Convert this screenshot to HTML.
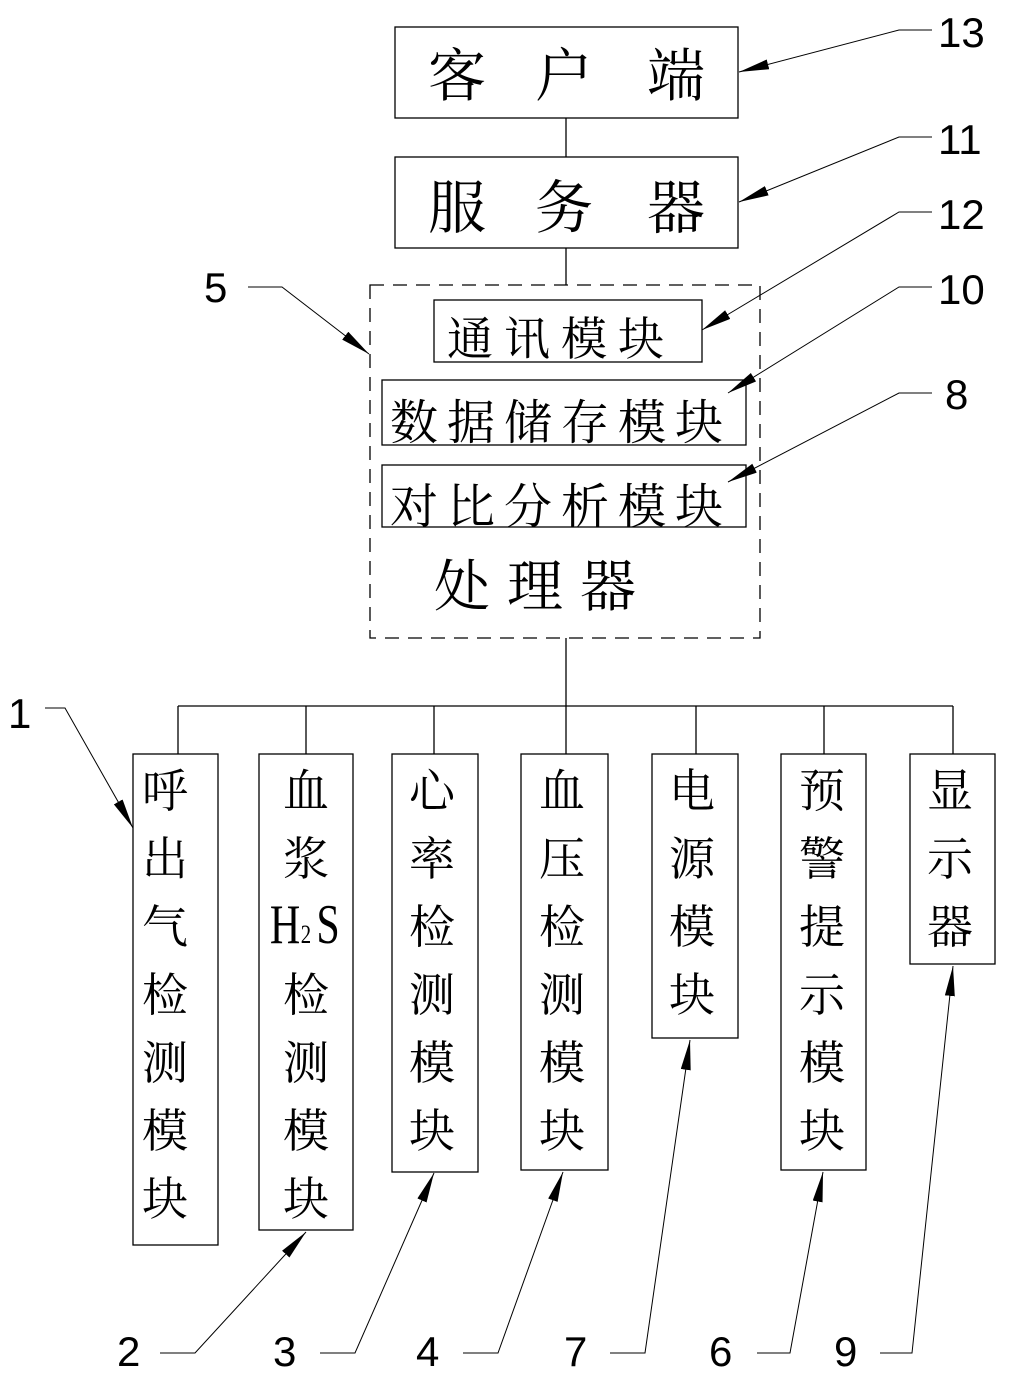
<!DOCTYPE html>
<html><head><meta charset="utf-8"><style>
html,body{margin:0;padding:0;background:#fff;}
svg{display:block;}
.c{font-family:"Liberation Serif","Noto Serif CJK SC","Noto Sans CJK SC",serif;fill:#000;}
.n{font-family:"Liberation Sans",sans-serif;fill:#000;font-size:42px;}
</style></head><body>
<svg width="1011" height="1381" viewBox="0 0 1011 1381" xmlns="http://www.w3.org/2000/svg">
<defs>
<marker id="a" markerUnits="userSpaceOnUse" markerWidth="32" markerHeight="12" refX="30" refY="5" orient="auto">
<path d="M0,0 L30,5 L0,10 z" fill="#000"/>
</marker>
</defs>
<g fill="none" stroke="#000" stroke-width="1.3">
<rect x="395" y="27" width="343" height="91"/>
<rect x="395" y="157" width="343" height="91"/>
<rect x="370" y="285" width="390" height="353" stroke-dasharray="14,9"/>
<rect x="434" y="300" width="268" height="62"/>
<rect x="382" y="380" width="364" height="65"/>
<rect x="382" y="465" width="364" height="62"/>
<line x1="566" y1="118" x2="566" y2="157"/>
<line x1="566" y1="248" x2="566" y2="285"/>
<line x1="566" y1="638" x2="566" y2="706"/>
<line x1="178" y1="706" x2="953" y2="706"/>
<line x1="178" y1="706" x2="178" y2="754"/>
<line x1="306" y1="706" x2="306" y2="754"/>
<line x1="434" y1="706" x2="434" y2="754"/>
<line x1="566" y1="706" x2="566" y2="754"/>
<line x1="696" y1="706" x2="696" y2="754"/>
<line x1="824" y1="706" x2="824" y2="754"/>
<line x1="953" y1="706" x2="953" y2="754"/>
<rect x="133" y="754" width="85" height="491"/>
<rect x="259" y="754" width="94" height="476"/>
<rect x="392" y="754" width="86" height="418"/>
<rect x="521" y="754" width="87" height="416"/>
<rect x="652" y="754" width="86" height="284"/>
<rect x="781" y="754" width="85" height="416"/>
<rect x="910" y="754" width="85" height="210"/>
</g>
<g fill="none" stroke="#000" stroke-width="1">
<polyline points="932,30 899,30 739,72" marker-end="url(#a)"/>
<polyline points="932,137 899,137 739,202" marker-end="url(#a)"/>
<polyline points="932,212 899,212 702,330" marker-end="url(#a)"/>
<polyline points="932,287 899,287 728,393" marker-end="url(#a)"/>
<polyline points="932,393 899,393 728,482" marker-end="url(#a)"/>
<polyline points="248,287 282,287 369,354" marker-end="url(#a)"/>
<polyline points="45,708 65,708 133,828" marker-end="url(#a)"/>
<polyline points="160,1353 195,1353 306,1232" marker-end="url(#a)"/>
<polyline points="320,1353 355,1353 434,1173" marker-end="url(#a)"/>
<polyline points="463,1353 498,1353 563,1172" marker-end="url(#a)"/>
<polyline points="610,1353 645,1353 690,1040" marker-end="url(#a)"/>
<polyline points="757,1353 790,1353 823,1172" marker-end="url(#a)"/>
<polyline points="880,1353 912,1353 953,966" marker-end="url(#a)"/>
</g>
<g class="n">
<text x="938" y="47">13</text>
<text x="938" y="154">11</text>
<text x="938" y="229">12</text>
<text x="938" y="304">10</text>
<text x="945" y="409">8</text>
<text x="204" y="302">5</text>
<text x="8" y="728">1</text>
<text x="117" y="1366">2</text>
<text x="273" y="1366">3</text>
<text x="416" y="1366">4</text>
<text x="564" y="1366">7</text>
<text x="709" y="1366">6</text>
<text x="834" y="1366">9</text>
</g>
<g class="c" text-anchor="middle">
<g font-size="58"><text x="457" y="96">客</text><text x="564" y="96">户</text><text x="676" y="96">端</text>
<text x="457" y="228">服</text><text x="564" y="228">务</text><text x="676" y="228">器</text></g>
<g font-size="46"><text x="470" y="355">通</text><text x="527" y="355">讯</text><text x="584" y="355">模</text><text x="641" y="355">块</text></g>
<g font-size="48"><text x="414" y="439">数</text><text x="471" y="439">据</text><text x="528" y="439">储</text><text x="585" y="439">存</text><text x="642" y="439">模</text><text x="699" y="439">块</text>
<text x="414" y="523">对</text><text x="471" y="523">比</text><text x="528" y="523">分</text><text x="585" y="523">析</text><text x="642" y="523">模</text><text x="699" y="523">块</text></g>
<g font-size="56"><text x="462" y="606">处</text><text x="535" y="606">理</text><text x="608" y="606">器</text></g>
</g>
<g class="c" font-size="46" text-anchor="middle">
<g transform="translate(165,0)"><text y="807">呼</text><text y="875">出</text><text y="943">气</text><text y="1011">检</text><text y="1079">测</text><text y="1147">模</text><text y="1215">块</text></g>
<g transform="translate(306,0)"><text y="807">血</text><text y="875">浆</text><text y="1011">检</text><text y="1079">测</text><text y="1147">模</text><text y="1215">块</text></g>
<g font-family="Liberation Serif,serif">
<text transform="translate(285,943) scale(0.75,1)" font-size="56">H</text>
<text transform="translate(306,943) scale(0.8,1)" font-size="26">2</text>
<text transform="translate(328,943) scale(0.75,1)" font-size="56">S</text>
</g>
<g transform="translate(432,0)"><text y="807">心</text><text y="875">率</text><text y="943">检</text><text y="1011">测</text><text y="1079">模</text><text y="1147">块</text></g>
<g transform="translate(562,0)"><text y="807">血</text><text y="875">压</text><text y="943">检</text><text y="1011">测</text><text y="1079">模</text><text y="1147">块</text></g>
<g transform="translate(692,0)"><text y="807">电</text><text y="875">源</text><text y="943">模</text><text y="1011">块</text></g>
<g transform="translate(822,0)"><text y="807">预</text><text y="875">警</text><text y="943">提</text><text y="1011">示</text><text y="1079">模</text><text y="1147">块</text></g>
<g transform="translate(950,0)"><text y="807">显</text><text y="875">示</text><text y="943">器</text></g>
</g>
</svg>
</body></html>
